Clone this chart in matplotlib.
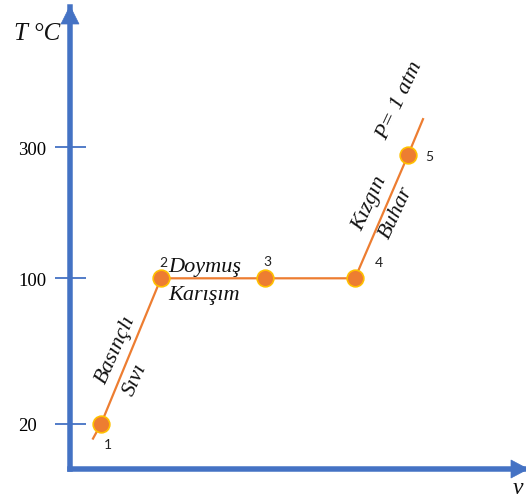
import numpy as np
import matplotlib
matplotlib.use("Agg")
import matplotlib.pyplot as plt
from matplotlib.patches import Polygon

# ---- data ----
point_ids = ["1", "2", "3", "4", "5"]
v_points = [3.1, 9.1, 19.5, 28.5, 33.8]
T_points = [20, 100, 100, 100, 288]
# process line (with short extensions beyond points 1 and 5)
v_line = [2.3, 3.1, 9.1, 19.5, 28.5, 33.8, 35.3]
T_line = [12, 20, 100, 100, 100, 288, 343]
y_ticks = [20, 100, 300]
y_tick_labels = ["20", "100", "300"]

BLUE = "#4472C4"
ORANGE = "#ED7D31"
GOLD = "#FFC000"
W, H = 526, 502
PX = 72 / 100  # pixel -> points

fig = plt.figure(figsize=(W / 100, H / 100), dpi=100)

# main axes: origin at pixel (70, 470 from top)
ax = fig.add_axes([70 / W, 32 / H, (W - 70) / W, (494 - 32) / H])
ax.set_facecolor("none")

# non-uniform temperature axis (as drawn in the schematic)
Tk = np.array([-200, 20, 100, 300, 1000], float)
Pk = np.array([-323.6, 77.0, 222.7, 353.7, 812.2])
fwd = lambda t: np.interp(t, Tk, Pk)
inv = lambda p: np.interp(p, Pk, Tk)
ax.set_yscale("function", functions=(fwd, inv))
ax.set_ylim(inv(32), inv(494))
ax.set_xlim(0, (W - 70) / 10)

for s in ["top", "right"]:
    ax.spines[s].set_visible(False)
for s in ["left", "bottom"]:
    ax.spines[s].set_color(BLUE)
    ax.spines[s].set_linewidth(5.5 * PX)
    ax.spines[s].set_capstyle("projecting")

ax.set_xticks([])
ax.set_yticks(y_ticks)
ax.set_yticklabels(y_tick_labels, family="Liberation Serif", fontsize=13.5)
ax.tick_params(axis="y", direction="inout", length=31 * PX, width=1.3,
               color=BLUE, pad=36.5 * PX)
plt.setp(ax.get_yticklabels(), ha="left")

# process line and state points
ax.plot(v_line, T_line, color=ORANGE, lw=1.6, zorder=3, clip_on=False)
ax.plot(v_points, T_points, "o", ms=12, mfc=ORANGE, mec=GOLD, mew=1.2,
        zorder=4, clip_on=False)

# point numbers
num_off = [(7, 20), (2, -16), (2, -17), (24, -16), (21, 1)]
for pid, v, t, (dx, dy) in zip(point_ids, v_points, T_points, num_off):
    ax.annotate(pid, (v, t), xytext=(dx * PX, -dy * PX),
                textcoords="offset points", ha="center", va="center",
                family="Lato", fontsize=10, color="#222222")

serif = dict(family="Liberation Serif", style="italic", fontsize=16,
             color="#111111")

# Doymuş Karışım
ax.annotate("Doymuş", (v_points[1], T_points[1]), xytext=(7 * PX, 7 * PX),
            textcoords="offset points", ha="left", va="baseline", **serif)
ax.annotate("Karışım", (v_points[1], T_points[1]), xytext=(7 * PX, -21 * PX),
            textcoords="offset points", ha="left", va="baseline", **serif)

# rotated labels
rot = [("Basınçlı", 0, (15, -75), 66), ("Sıvı", 0, (34, -45), 66),
       ("Kızgın", 3, (15, -76), 65), ("Buhar", 3, (41, -66), 65),
       ("P= 1 atm", 4, (-8, -55), 65)]
for txt, i, (dx, dy), r in rot:
    ax.annotate(txt, (v_points[i], T_points[i]), xytext=(dx * PX, -dy * PX),
                textcoords="offset points", ha="center", va="center",
                rotation=r, rotation_mode="anchor", **serif)

# decoration overlay in pixel coordinates (arrowheads)
deco = fig.add_axes([0, 0, 1, 1])
deco.set_xlim(0, W)
deco.set_ylim(H, 0)
deco.axis("off")
deco.set_facecolor("none")
deco.add_patch(Polygon([(61, 25), (79, 25), (70, 7)], closed=True,
                       fc=BLUE, ec=BLUE, lw=0.5))
deco.add_patch(Polygon([(511, 461), (511, 479), (528, 470)], closed=True,
                       fc=BLUE, ec=BLUE, lw=0.5))

# axis titles
deco.text(14, 40, "T °C", ha="left", va="baseline", family="Liberation Serif",
          style="italic", fontsize=18, color="#111111")
deco.text(518, 494, "v", ha="center", va="baseline", family="Liberation Serif",
          style="italic", fontsize=17, color="#111111")

fig.savefig("out.png", dpi=100)
